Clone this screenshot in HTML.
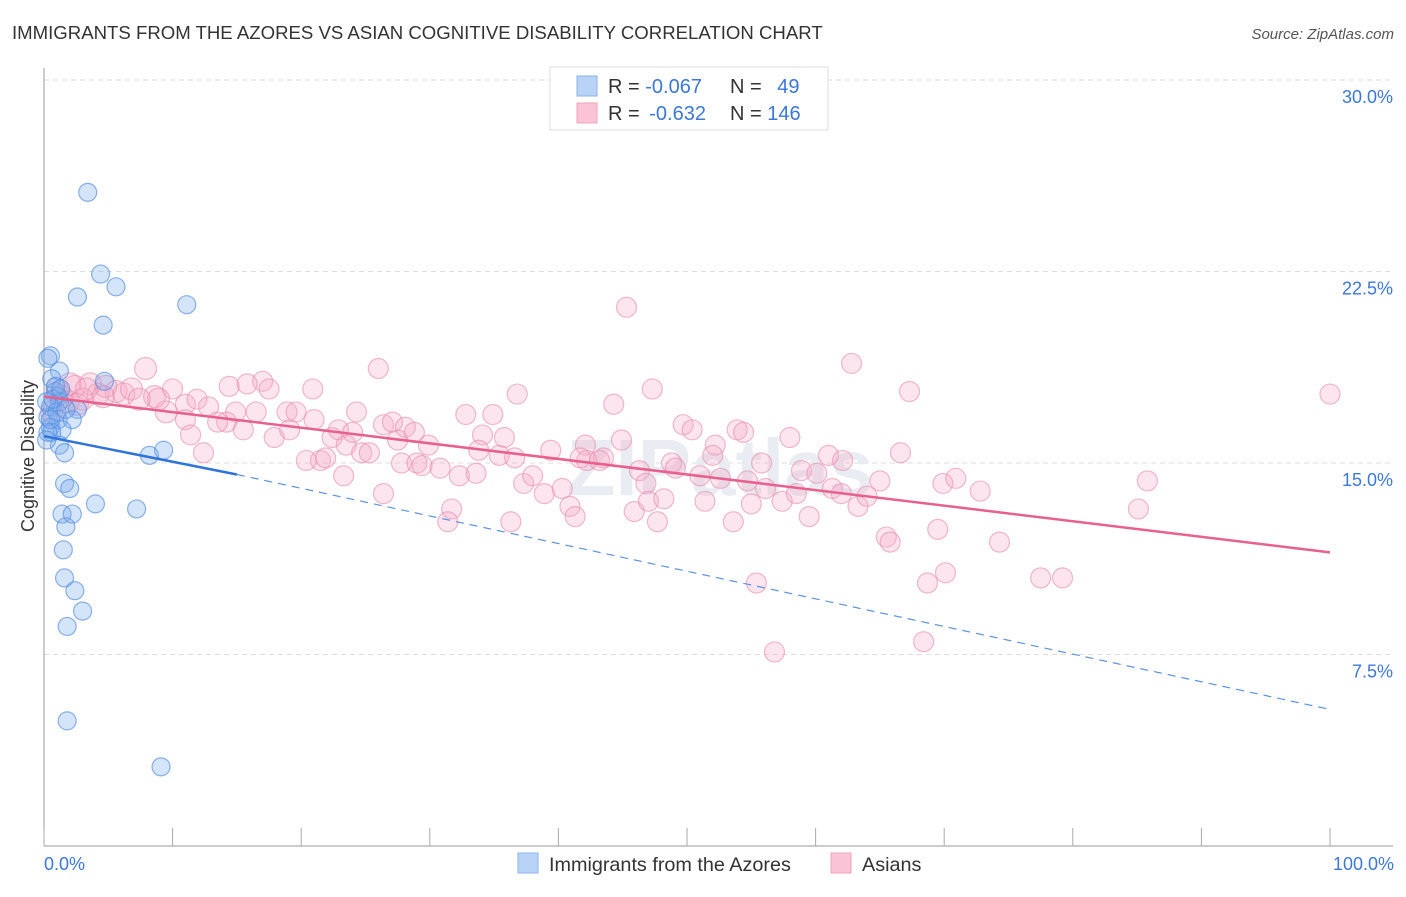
<!DOCTYPE html>
<html><head><meta charset="utf-8"><style>
body{margin:0;background:#fff;font-family:"Liberation Sans",sans-serif;}
svg text{font-family:"Liberation Sans",sans-serif;}
</style></head><body>
<svg width="1406" height="892" viewBox="0 0 1406 892">
<text x="12" y="39" font-size="18.6" fill="#333">IMMIGRANTS FROM THE AZORES VS ASIAN COGNITIVE DISABILITY CORRELATION CHART</text>
<text x="1394" y="39" font-size="15" fill="#555" text-anchor="end" font-style="italic">Source: ZipAtlas.com</text>
<g id="grid"></g>
<g id="axes"></g>
<text x="720" y="495" font-size="80" fill="#e9ecf2" text-anchor="middle" font-weight="bold">ZIPatlas</text>
<g id="pts"></g>
<g id="trend"></g>
<text x="34" y="456" font-size="18" fill="#333" text-anchor="middle" transform="rotate(-90 34 456)">Cognitive Disability</text>
<text x="44" y="870" font-size="18" fill="#3b78d8">0.0%</text>
<text x="1394" y="870" font-size="18" fill="#3b78d8" text-anchor="end">100.0%</text>
<g>
<rect x="550" y="67" width="278" height="63" fill="#fff" stroke="#ddd"/>
<rect x="577" y="76" width="20" height="20" fill="#b8d3f5" stroke="#8ab4ea"/>
<rect x="577" y="103" width="20" height="20" fill="#fac4d6" stroke="#f2a2bd"/>
<text x="608" y="93" font-size="20" fill="#333">R = <tspan fill="#3b78d8">-0.067</tspan></text>
<text x="730" y="93" font-size="20" fill="#333">N = <tspan fill="#3b78d8" dx="10">49</tspan></text>
<text x="608" y="120" font-size="20" fill="#333">R = <tspan fill="#3b78d8" dx="4">-0.632</tspan></text>
<text x="730" y="120" font-size="20" fill="#333">N = <tspan fill="#3b78d8">146</tspan></text>
</g>
<g>
<rect x="518" y="853" width="20" height="20" fill="#b8d3f5" stroke="#8ab4ea"/>
<text x="549" y="871" font-size="19.8" fill="#333">Immigrants from the Azores</text>
<rect x="831" y="853" width="20" height="20" fill="#fac4d6" stroke="#f2a2bd"/>
<text x="862" y="871" font-size="19.8" fill="#333">Asians</text>
</g>
</svg>
<script>
const yTicks=[7.5,15,22.5,30];
const yTickLabels=["7.5%","15.0%","22.5%","30.0%"];
const xTicks=[0,10,20,30,40,50,60,70,80,90,100];
const blueX=[3.4,4.4,5.6,2.6,11.1,4.6,0.5,0.3,1.2,4.7,0.6,0.9,1.1,1.2,0.5,2.6,0.3,1.1,2.2,0.5,1.4,0.6,0.3,1.2,1.6,8.2,9.3,1.6,2.0,4.0,7.2,1.4,2.2,1.7,1.5,1.6,2.4,3.0,1.8,1.8,9.1,0.9,0.2,1.0,0.2,0.7,1.3,0.5,1.7];
const blueY=[25.6,22.4,21.9,21.5,21.2,20.4,19.2,19.1,18.6,18.2,18.3,17.8,17.6,17.4,17.2,17.1,16.8,16.7,16.7,16.4,16.3,16.2,16.2,15.7,15.4,15.3,15.5,14.2,14.0,13.4,13.2,13.0,13.0,12.5,11.6,10.5,10.0,9.2,8.6,4.9,3.1,18.0,17.4,17.0,15.9,17.5,17.9,16.7,17.1];
const pinkX=[7.9,26.0,45.3,62.8,100,67.3,47.3,36.8,20.9,17.0,14.4,10.0,5.6,3.6,2.4,1.4,1.9,3.0,4.2,4.8,6.2,6.8,8.6,9.5,8.9,11.0,11.9,12.8,14.2,14.9,15.8,16.5,17.5,13.5,11.0,11.4,12.4,15.5,17.9,18.9,19.6,19.1,21.0,22.4,22.9,23.5,24.3,24.0,24.7,25.3,26.4,27.1,27.5,28.1,28.8,29.9,27.8,29.0,20.4,21.5,21.9,23.3,26.4,29.4,30.8,31.7,31.4,32.8,32.3,33.6,34.1,34.9,35.8,33.8,35.4,36.6,36.3,37.3,38.0,38.9,39.4,40.3,40.9,41.3,42.1,42.2,41.7,43.5,43.2,44.3,44.9,46.3,46.8,45.9,47.0,47.7,48.2,48.8,49.1,49.7,50.4,51.0,51.4,52.2,52.0,52.6,53.6,53.9,54.4,54.7,55.0,55.4,55.8,56.1,56.8,57.4,58.0,58.5,58.9,59.5,60.1,61.0,62.1,61.3,62.0,63.3,64.0,65.0,65.5,65.8,66.6,68.4,68.7,69.5,70.1,69.9,70.9,72.8,74.3,77.5,79.2,85.1,85.8,1.0,2.0,3.3,0.6,4.6,2.6,7.4];
const pinkY=[18.7,18.7,21.1,18.9,17.7,17.8,17.9,17.7,17.9,18.2,18.0,17.9,17.8,18.1,18.0,17.6,17.4,17.5,17.7,18.0,17.7,17.9,17.6,17.0,17.5,17.3,17.5,17.2,16.6,17.0,18.1,17.0,17.9,16.6,16.7,16.1,15.4,16.3,16.0,17.0,17.0,16.3,16.7,16.0,16.3,15.7,17.0,16.2,15.4,15.4,16.5,16.6,15.9,16.4,16.2,15.7,15.0,15.0,15.1,15.1,15.2,14.5,13.8,14.9,14.8,13.2,12.7,16.9,14.5,14.6,16.1,16.9,16.0,15.5,15.3,15.2,12.7,14.2,14.5,13.8,15.5,14.0,13.3,12.9,15.7,15.1,15.2,15.2,15.1,17.3,15.9,14.7,14.2,13.1,13.5,12.7,13.6,15.0,14.8,16.5,16.3,14.5,13.5,15.7,15.3,14.4,12.7,16.3,16.2,14.3,13.4,10.3,15.0,14.0,7.6,13.5,16.0,13.8,14.7,12.9,14.6,15.3,15.1,14.0,13.8,13.3,13.7,14.3,12.1,11.9,15.4,8.0,10.3,12.4,10.7,14.2,14.4,13.9,11.9,10.5,10.5,13.2,14.3,17.9,18.1,17.9,17.0,17.6,17.3,17.5];
const blueTrend=[[0,16.05],[15,14.55],[100,5.35]];
const pinkTrend=[[0,17.6],[100,11.5]];

const NS="http://www.w3.org/2000/svg";
const X0=44,X1=1330,Y0=846,Y30=80;
function sx(v){return X0+(X1-X0)*v/100;}
function sy(v){return Y0-(Y0-Y30)*v/30;}
function mk(tag,attrs,parent){const e=document.createElementNS(NS,tag);for(const k in attrs)e.setAttribute(k,attrs[k]);parent.appendChild(e);return e;}
const grid=document.getElementById('grid'),axes=document.getElementById('axes');
yTicks.forEach((t,i)=>{
 const l=mk('line',{x1:X0,x2:1393,y1:sy(t),y2:sy(t),stroke:'#ddd','stroke-dasharray':'5,4'},grid);
 
 
 const tx=mk('text',{x:1393,y:sy(t)+23,'font-size':18,fill:'#3b78d8','text-anchor':'end'},grid);
 tx.textContent=yTickLabels[i];
 
 
});
const ya=mk('line',{x1:X0,x2:X0,y1:68,y2:Y0,stroke:'#999'},axes);


const xa=mk('line',{x1:X0,x2:1393,y1:Y0,y2:Y0,stroke:'#999'},axes);


xTicks.forEach(t=>{
 const l=mk('line',{x1:sx(t),x2:sx(t),y1:Y0,y2:Y0-18,stroke:'#aaa'},axes);
 
 
});
const pts=document.getElementById('pts');
pinkX.forEach((x,i)=>{
 const c=mk('circle',{cx:sx(x),cy:sy(pinkY[i]),r:(x<10?11:10),fill:'rgba(246,170,198,0.3)',stroke:'rgba(232,140,172,0.6)','stroke-width':1.2},pts);
 
 
});
blueX.forEach((x,i)=>{
 const c=mk('circle',{cx:sx(x),cy:sy(blueY[i]),r:9,fill:'rgba(120,170,235,0.32)',stroke:'rgba(80,140,225,0.65)','stroke-width':1.2},pts);
 
 
});
const tr=document.getElementById('trend');
const b1=mk('line',{x1:sx(blueTrend[0][0]),y1:sy(blueTrend[0][1]),x2:sx(blueTrend[1][0]),y2:sy(blueTrend[1][1]),stroke:'#2f74d8','stroke-width':2.5},tr);


const b2=mk('line',{x1:sx(blueTrend[1][0]),y1:sy(blueTrend[1][1]),x2:sx(blueTrend[2][0]),y2:sy(blueTrend[2][1]),stroke:'#5b93e0','stroke-width':1.2,'stroke-dasharray':'8,6'},tr);


const p1=mk('line',{x1:sx(pinkTrend[0][0]),y1:sy(pinkTrend[0][1]),x2:sx(pinkTrend[1][0]),y2:sy(pinkTrend[1][1]),stroke:'#e8608e','stroke-width':2.5},tr);


</script>
</body></html>
